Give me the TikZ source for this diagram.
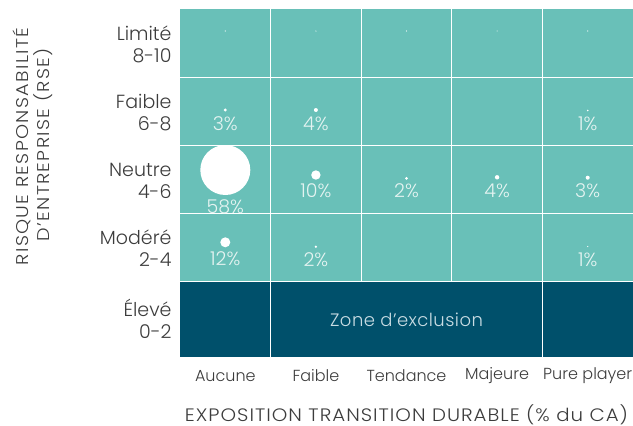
\documentclass[tikz,border=0pt]{standalone}
\usepackage{fontspec}
\setmainfont{Poppins Light}
\definecolor{teal1}{HTML}{69C0B8}
\definecolor{navy1}{HTML}{00506B}
\definecolor{txt}{HTML}{3C3C3C}
\definecolor{lbl}{HTML}{E4F3F1}
\definecolor{zlbl}{HTML}{C9DCE3}
\tikzset{
  rowlab/.style={anchor=east,align=right,text=txt,font=\fontsize{19}{22}\selectfont,inner sep=0pt},
  collab/.style={text=txt,font=\fontsize{16}{18}\selectfont,inner sep=0pt},
  pct/.style={text=lbl,font=\fontsize{19}{20}\selectfont,inner sep=0pt},
  ytit/.style={text=txt,font=\fontsize{17}{20}\selectfont\addfontfeatures{LetterSpace=7},rotate=90,inner sep=0pt},
  bub/.style={fill=white,draw=none},
  grid/.style={white,line width=1.3pt},
}
\begin{document}
\begin{tikzpicture}[x=1pt,y=-1pt]
\useasboundingbox (0,0) rectangle (633,426);
% cells
\fill[teal1] (180,9) rectangle (633,281.5);
\fill[navy1] (180,281.5) rectangle (633,357);
\draw[grid] (270.6,9) -- (270.6,357);
\draw[grid] (361.2,9) -- (361.2,281.5);
\draw[grid] (451.8,9) -- (451.8,281.5);
\draw[grid] (542.4,9) -- (542.4,357);
\foreach \yy in {77.5,145.5,213.5,281.5} \draw[grid] (180,\yy) -- (633,\yy);
% row labels
\node[rowlab] (r1) at (171.7,44) {Limité\\8-10};
\node[rowlab] (r2) at (171.7,112.4) {Faible\\6-8};
\node[rowlab] (r3) at (171.7,181) {Neutre\\4-6};
\node[rowlab] (r4) at (171.7,248.5) {Modéré\\2-4};
\node[rowlab] (r5) at (171.7,319) {Élevé\\0-2};
% axis titles
\node[ytit] (ytitle1) at (21.5,146.5) {\scalebox{1.13}[1]{RISQUE RESPONSABILITÉ}};
\node[ytit] (ytitle2) at (43,145) {\scalebox{1.13}[1]{D'ENTREPRISE (RSE)}};
\node[collab] (c1) at (225.3,376) {Aucune};
\node[collab] (c2) at (315.9,376) {Faible};
\node[collab] (c3) at (406.5,376) {Tendance};
\node[collab] (c4) at (497.1,376) {Majeure};
\node[collab] (c5) at (587.7,376) {Pure player};
\node[text=txt,font=\fontsize{18}{20}\selectfont\addfontfeatures{LetterSpace=5},inner sep=0pt] (xtitle) at (406.5,414.5) {\scalebox{1.1}[1]{EXPOSITION TRANSITION DURABLE (\% du CA)}};
\node[text=zlbl,font=\fontsize{18}{20}\selectfont\addfontfeatures{LetterSpace=2.5},inner sep=0pt] (zone) at (406.5,319.5) {Zone d'exclusion};
% Limité row tiny dots
\foreach \xx in {225.3,315.9,406.5,497.1,587.7} \fill[white] (\xx,31) circle (0.6);
% Faible row
\fill[bub] (225.3,110) circle (1.6);
\node[pct] (p1) at (225.3,124) {3\%};
\fill[bub] (315.9,110) circle (2);
\node[pct] (p2) at (315.9,124) {4\%};
\fill[bub] (587.7,110.5) circle (0.8);
\node[pct] (p3) at (587.7,124) {1\%};
% Neutre row
\fill[bub] (225.3,170) circle (25);
\node[pct] (p4) at (225.3,207) {58\%};
\fill[bub] (315.9,175) circle (4.7);
\node[pct] (p5) at (315.9,190.5) {10\%};
\fill[bub] (406.5,178.3) circle (1.5);
\node[pct] (p6) at (406.5,190.5) {2\%};
\fill[bub] (497.1,177.3) circle (2.2);
\node[pct] (p7) at (497.1,190.5) {4\%};
\fill[bub] (587.7,177.7) circle (2);
\node[pct] (p8) at (587.7,190.5) {3\%};
% Modéré row
\fill[bub] (225.3,242.3) circle (5);
\node[pct] (p9) at (225.3,259) {12\%};
\fill[bub] (315.9,246.7) circle (1.3);
\node[pct] (p10) at (315.9,259.5) {2\%};
\fill[bub] (587.7,246.5) circle (0.6);
\node[pct] (p11) at (587.7,259.5) {1\%};
\end{tikzpicture}
\end{document}
